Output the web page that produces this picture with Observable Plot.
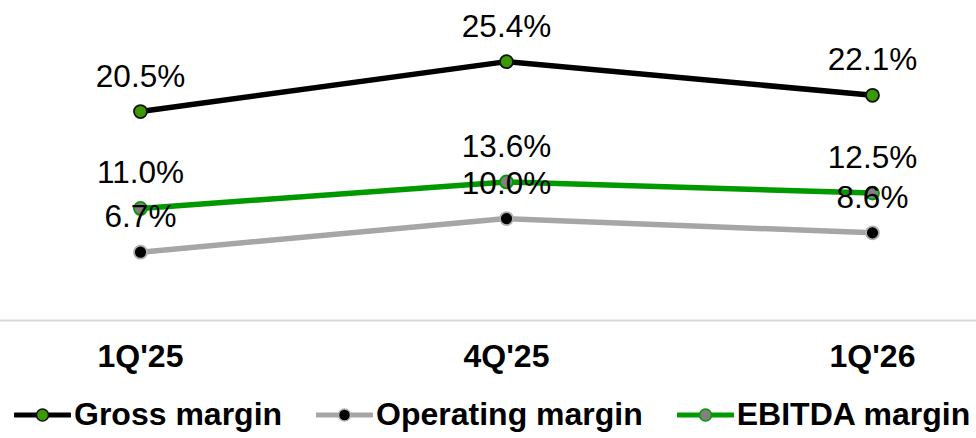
<!DOCTYPE html>
<html>
<head>
<meta charset="utf-8">
<script src="https://cdn.jsdelivr.net/npm/d3@7"></script>
<script src="https://cdn.jsdelivr.net/npm/@observablehq/plot@0.6"></script>
<style>
  html, body { margin: 0; padding: 0; background: #fff; }
  body { width: 976px; height: 438px; overflow: hidden; font-family: "Liberation Sans", Arial, sans-serif; }
  #legend { display: flex; align-items: center; height: 53px; padding-top: 6px; padding-left: 14px; white-space: nowrap; box-sizing: border-box; }
  .item { display: flex; align-items: center; margin-right: 34px; }
  .item span { font-size: 32px; font-weight: bold; color: #000; margin-left: 3px; }
</style>
</head>
<body>
<div id="chart"></div>
<div id="legend"></div>
<script>
const quarters = ["1Q'25", "4Q'25", "1Q'26"];
const seriesNames = ["Gross margin", "Operating margin", "EBITDA margin"];
const grossMargin = [20.5, 25.4, 22.1];
const operatingMargin = [6.7, 10.0, 8.6];
const ebitdaMargin = [11.0, 13.6, 12.5];

const styles = {
  "Gross margin": {line: "#000000", dotFill: "#3a9a00", dotStroke: "#111111"},
  "Operating margin": {line: "#a6a6a6", dotFill: "#000000", dotStroke: "#b0b0b0"},
  "EBITDA margin": {line: "#009a00", dotFill: "#808080", dotStroke: "#009a00"}
};

const valuesBySeries = {
  "Gross margin": grossMargin,
  "Operating margin": operatingMargin,
  "EBITDA margin": ebitdaMargin
};

const rows = seriesNames.flatMap(s => quarters.map((q, i) => ({series: s, quarter: q, value: valuesBySeries[s][i]})));

const font = "Liberation Sans, Arial, sans-serif";
const marks = [Plot.ruleY([0], {stroke: "#d9d9d9", strokeWidth: 2})];
const drawOrder = ["Operating margin", "EBITDA margin", "Gross margin"];
for (const s of drawOrder) {
  const d = rows.filter(r => r.series === s);
  marks.push(Plot.line(d, {x: "quarter", y: "value", stroke: styles[s].line, strokeWidth: 5.5}));
  marks.push(Plot.dot(d, {x: "quarter", y: "value", r: 6.5, fill: styles[s].dotFill, stroke: styles[s].dotStroke, strokeWidth: 1.8}));
}
for (const s of ["Gross margin", "EBITDA margin", "Operating margin"]) {
  const d = rows.filter(r => r.series === s);
  marks.push(Plot.text(d, {x: "quarter", y: "value", text: r => r.value.toFixed(1) + "%", dy: -35, fontSize: 31.5, fill: "#000", fontFamily: font}));
}
marks.push(Plot.axisX({tickSize: 0, tickPadding: 24, fontSize: 32, fontWeight: "bold", fontFamily: font, color: "#000", label: null}));

const chart = Plot.plot({
  width: 976,
  height: 385,
  marginTop: 0,
  marginBottom: 65,
  marginLeft: 0,
  marginRight: 0,
  x: {type: "point", domain: quarters, range: [139, 872], padding: 0, label: null},
  y: {domain: [0, 31.4], axis: null},
  style: {fontFamily: font, background: "#fff", overflow: "visible"},
  marks
});
document.getElementById("chart").appendChild(chart);

const legend = document.getElementById("legend");
for (const s of seriesNames) {
  const item = document.createElement("div");
  item.className = "item";
  const svg = d3.create("svg").attr("width", 57).attr("height", 20);
  svg.append("line").attr("x1", 1).attr("x2", 56).attr("y1", 10).attr("y2", 10)
    .attr("stroke", styles[s].line).attr("stroke-width", 5).attr("stroke-linecap", "round");
  svg.append("circle").attr("cx", 28.5).attr("cy", 10).attr("r", 6)
    .attr("fill", styles[s].dotFill).attr("stroke", styles[s].dotStroke).attr("stroke-width", 1.5);
  item.appendChild(svg.node());
  const span = document.createElement("span");
  span.textContent = s;
  item.appendChild(span);
  legend.appendChild(item);
}
</script>
</body>
</html>
